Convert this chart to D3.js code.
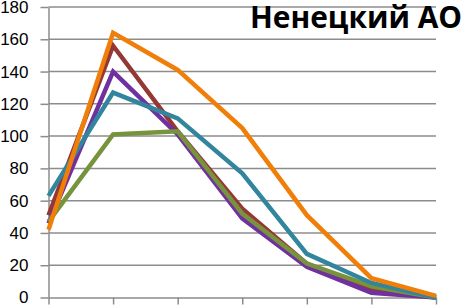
<!DOCTYPE html>
<html>
<head>
<meta charset="utf-8">
<script src="https://cdn.jsdelivr.net/npm/d3@7"></script>
<style>
  body { margin: 0; background: #fff; }
  svg { display: block; }
  .axis text { font-family: "Liberation Sans", Arial, sans-serif; font-size: 17px; fill: #000; }
</style>
</head>
<body>
<svg width="465" height="305"></svg>
<script>
// age groups (labels fall below the visible area)
var categories = ["15-19", "20-24", "25-29", "30-34", "35-39", "40-44", "45-49"];
var yTicks = [0, 20, 40, 60, 80, 100, 120, 140, 160, 180];

// series values
var seriesNames = ["ряд 1", "ряд 2", "ряд 3", "ряд 4", "ряд 5"];
var brownValues = [51, 156, 103, 55, 21, 5, 0];
var purpleValues = [46, 140, 101, 49, 19, 3, 0];
var greenValues = [47, 101, 103, 52, 21, 7, 0];
var tealValues = [63, 127, 111, 77, 27, 9, 0];
var orangeValues = [42, 164, 141, 105, 51, 12, 1];
var colors = ["#953735", "#7030a0", "#77933c", "#31859c", "#f07f09"];

var svg = d3.select("svg"),
  plotLeft = 48.5,
  plotRight = 436,
  plotTop = 7,
  plotBottom = 297.5;

var x = d3.scalePoint().domain(categories).range([plotLeft, plotRight]);
var y = d3.scaleLinear().domain([0, 180]).range([plotBottom, plotTop]);

var series = [brownValues, purpleValues, greenValues, tealValues, orangeValues].map(function (v, i) {
  return { name: seriesNames[i], values: v, color: colors[i] };
});

// gridlines
svg
  .append("g")
  .selectAll("line")
  .data(yTicks.slice(1))
  .enter()
  .append("line")
  .attr("x1", plotLeft)
  .attr("x2", plotRight)
  .attr("y1", function (d) {
    return y(d);
  })
  .attr("y2", function (d) {
    return y(d);
  })
  .style("stroke", "#8c8c8c")
  .style("stroke-width", 1.5);

var yAxis = svg
  .append("g")
  .attr("class", "axis")
  .attr("transform", "translate(" + plotLeft + ",0)")
  .call(d3.axisLeft(y).tickValues(yTicks).tickSizeInner(8).tickSizeOuter(0).tickPadding(12));

var xAxis = svg
  .append("g")
  .attr("class", "axis")
  .attr("transform", "translate(0," + plotBottom + ")")
  .call(d3.axisBottom(x).tickSizeInner(7).tickSizeOuter(0).tickFormat(""));

svg.selectAll(".axis path, .axis line").style("stroke", "#8c8c8c").style("stroke-width", 1.5);

var line = d3
  .line()
  .x(function (d, i) {
    return x(categories[i]);
  })
  .y(function (d) {
    return y(d);
  });

svg
  .append("g")
  .selectAll("path")
  .data(series)
  .enter()
  .append("path")
  .attr("d", function (d) {
    return line(d.values);
  })
  .style("fill", "none")
  .style("stroke", function (d) {
    return d.color;
  })
  .style("stroke-width", 4.5)
  .style("stroke-linejoin", "miter");

// title
svg
  .append("text")
  .attr("x", 462)
  .attr("y", 28)
  .attr("text-anchor", "end")
  .attr("textLength", 212)
  .attr("lengthAdjust", "spacingAndGlyphs")
  .style("font-family", "'Open Sans', 'DejaVu Sans', sans-serif")
  .style("font-weight", "bold")
  .style("font-size", "31px")
  .style("fill", "#000")
  .text("Ненецкий АО");
</script>
</body>
</html>
